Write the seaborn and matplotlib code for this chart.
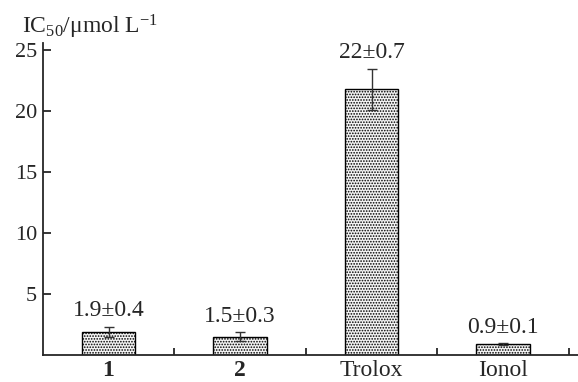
import numpy as np
import pandas as pd
import matplotlib
matplotlib.use("Agg")
import matplotlib.pyplot as plt
import seaborn as sns

# values
compounds = ["1", "2", "Trolox", "Ionol"]
ic50 = [1.9, 1.5, 21.8, 0.9]
err = [0.4, 0.35, 1.7, 0.05]
labels = ["1.9±0.4", "1.5±0.3", "22±0.7", "0.9±0.1"]
yticks = [5, 10, 15, 20, 25]

sns.set_style("ticks")
plt.rcParams.update({
    "font.family": ["Liberation Serif", "DejaVu Serif"],
    "mathtext.fontset": "custom",
    "mathtext.rm": "Liberation Serif",
    "mathtext.it": "Liberation Serif:italic",
    "font.size": 17,
    "axes.linewidth": 1.3,
    "hatch.linewidth": 0.8,
    "hatch.color": "#555555",
})

df = pd.DataFrame({"compound": compounds, "ic50": ic50})

fig = plt.figure(figsize=(5.78, 3.82), dpi=100)
ax = fig.add_axes([0.074, 0.071, 0.926, 0.816])

sns.barplot(data=df, x="compound", y="ic50", ax=ax, color="#f4f4f4",
            edgecolor="black", linewidth=1.0, width=0.41, errorbar=None,
            saturation=1)
for p in ax.patches:
    p.set_hatch("......")

x = np.arange(len(compounds))
ax.errorbar(x, ic50, yerr=err, fmt="none", ecolor="#333333",
            elinewidth=1.0, capsize=3.5, capthick=1.0)

for xi, v, e, lab in zip(x, ic50, err, labels):
    ax.annotate(lab, (xi, v + e), xytext=(0, 4), textcoords="offset points",
                ha="center", va="bottom", fontsize=17)

ax.set_xlim(-0.5, 3.57)
ax.set_ylim(0, 25.6)
ax.set_yticks(yticks)
ax.set_yticklabels([str(t) for t in yticks])
ax.set_xticks(x)
ax.set_xticklabels(compounds)
for t in ax.get_xticklabels()[:2]:
    t.set_fontweight("bold")
ax.set_xticks(x + 0.5, minor=True)
ax.tick_params(axis="x", which="major", length=0, pad=4, labelsize=17)
ax.tick_params(axis="x", which="minor", direction="in", length=5, width=1.3)
ax.tick_params(axis="y", direction="in", length=6, width=1.3, labelsize=16, pad=4)
ax.set_xlabel("")
ax.set_ylabel("")
sns.despine(ax=ax)

fig.text(0.038, 0.93, "IC$_{50}$/μmol L$^{-1}$", fontsize=17, ha="left", va="center")

fig.savefig("out.png", dpi=100, facecolor="white")
